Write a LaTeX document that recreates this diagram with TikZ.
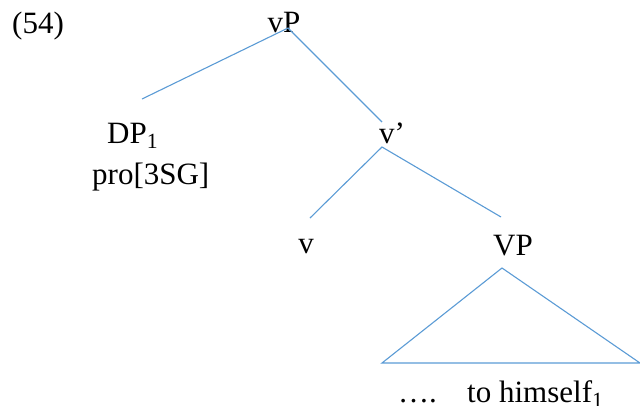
\documentclass[tikz,border=0pt]{standalone}
\usepackage{fontspec}
\setmainfont{Liberation Serif}
\usetikzlibrary{calc}
\definecolor{treeblue}{HTML}{5B9BD5}

\begin{document}
\begin{tikzpicture}[x=1pt,y=-1pt,
        lbl/.style={inner sep=0pt, font=\fontsize{31}{37}\selectfont},
        branch/.style={draw=treeblue, line width=1.1pt}]
        \useasboundingbox (0,0) rectangle (640,405);

        \coordinate (vPtop) at (288,28);
        \coordinate (DPend) at (142,99);
        \coordinate (vbarend) at (382,122);
        \coordinate (vbartop) at (382,147);
        \coordinate (vend) at (310,218);
        \coordinate (VPend) at (501,217);
        \coordinate (VPtop) at (502,268);
        \coordinate (triL) at (382,363);
        \coordinate (triR) at (640,363);

        \node[lbl, anchor=base west] (ex) at (12,33) {(54)};
        \node[lbl, anchor=base] (vP) at (284,32) {vP};
        \node[lbl, anchor=base west] (DP) at (107,143) {DP\textsubscript{1}};
        \node[lbl, anchor=base west] (pro) at (92,184) {pro[3SG]};
        \node[lbl, anchor=base west] (vbar) at (379,143) {v’};
        \node[lbl, anchor=base] (v) at (306,253) {v};
        \node[lbl, anchor=base west] (VP) at (493,255) {VP};
        \node[lbl, anchor=base west] (dots) at (398,402) {….};
        \node[lbl, anchor=base west] (him) at (467,402) {to himself\textsubscript{1}};

        \draw[branch] (DPend)--(vPtop)--(vbarend);
        \draw[branch] (vend)--(vbartop)--(VPend);
        \draw[branch] (triL)--(VPtop)--(triR)--cycle;
\end{tikzpicture}
\end{document}
